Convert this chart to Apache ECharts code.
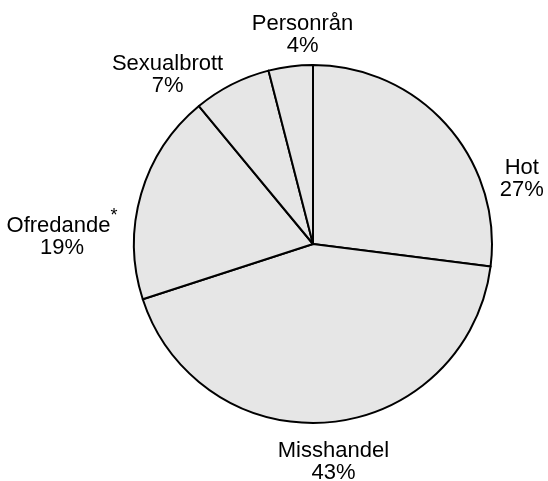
<!DOCTYPE html>
<html>
<head>
<meta charset="utf-8">
<script src="https://cdn.jsdelivr.net/npm/echarts@6/dist/echarts.min.js"></script>
<style>
  html, body { margin: 0; padding: 0; background: #fff; }
  #main { width: 548px; height: 481px; }
</style>
</head>
<body>
<div id="main"></div>
<script>
// brottstyper, medurs från klockan 12
var categories = ['Hot', 'Misshandel', 'Ofredande', 'Sexualbrott', 'Personrån'];
var shares = [27, 43, 19, 7, 4];
var footnote = [false, false, true, false, false];

var myChart = echarts.init(document.getElementById('main'));

// små justeringar av etikettplaceringen (dx, dy)
var nudge = [[40, 60], [-58, 30], [-9, 42], [1, -1], [69, -22]];

var data = [];
for (var i = 0; i < categories.length; i++) {
  data.push({ name: categories[i], value: shares[i] });
}

var option = {
  animation: false,
  series: [{
    type: 'pie',
    center: [313, 244],
    radius: [0, 179],
    startAngle: 90,
    clockwise: true,
    avoidLabelOverlap: false,
    itemStyle: {
      color: '#e6e6e6',
      borderColor: '#000',
      borderWidth: 2
    },
    emphasis: { disabled: true },
    labelLine: { show: false, length: 10, length2: 0 },
    label: {
      show: true,
      position: 'outside',
      color: '#000',
      fontFamily: 'Liberation Sans',
      fontSize: 22,
      lineHeight: 22,
      formatter: function (p) {
        var star = footnote[p.dataIndex] ? '{s|*}' : '';
        return '{n|' + p.name + '}' + star + '\n{n|' + p.value + '%}';
      },
      rich: {
        n: { fontFamily: 'Liberation Sans', fontSize: 22, lineHeight: 22, color: '#000', align: 'center', verticalAlign: 'bottom' },
        s: { fontFamily: 'Liberation Sans', fontSize: 18, lineHeight: 30, color: '#000', verticalAlign: 'top' }
      }
    },
    labelLayout: function (params) {
      var d = nudge[params.dataIndex];
      return { dx: d[0], dy: d[1] };
    },
    data: data
  }]
};
myChart.setOption(option);
</script>
</body>
</html>
